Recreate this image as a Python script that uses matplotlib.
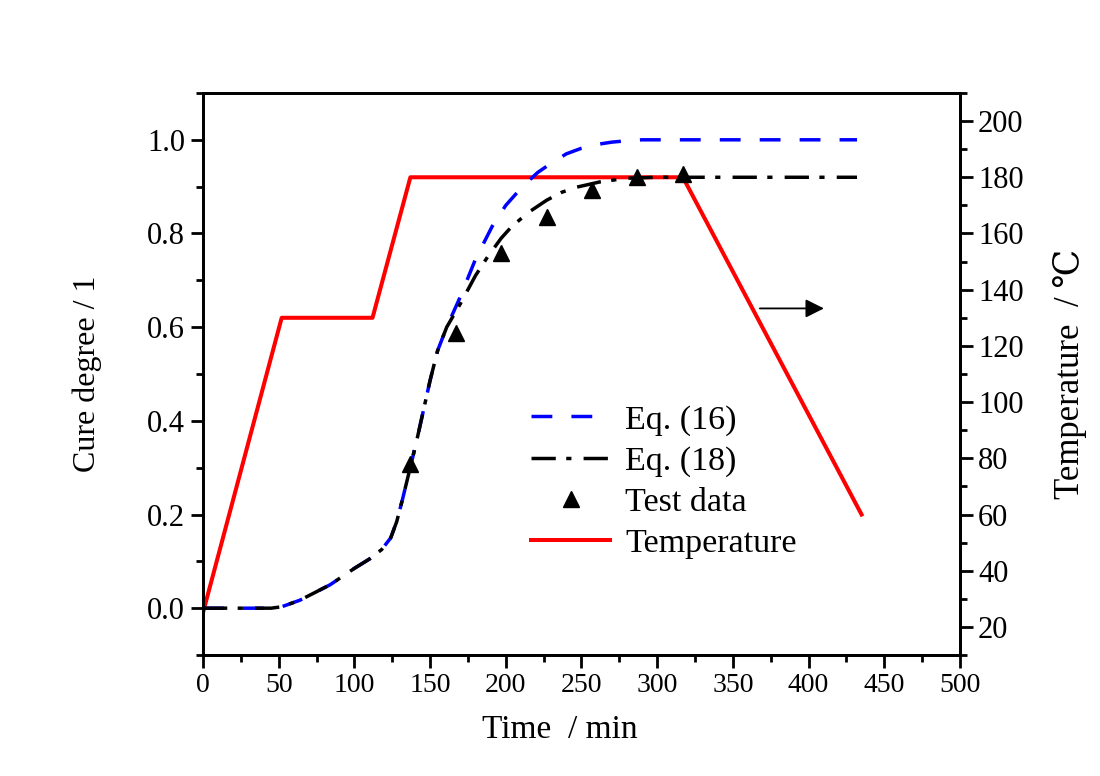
import numpy as np
import matplotlib
matplotlib.use('Agg')
import matplotlib.pyplot as plt
from matplotlib.ticker import MultipleLocator

plt.rcParams['font.family'] = ['Liberation Serif', 'DejaVu Serif']
plt.rcParams['mathtext.fontset'] = 'stix'

# Eq. (16) curve
t16 = [0, 25, 45, 52, 64, 84, 100, 110, 118, 124, 128, 132, 141, 150, 155, 161, 170, 180,
       191, 200, 211, 221, 230, 240, 250, 260, 270, 280, 290, 300, 350, 400, 432]
c16 = [0, 0, 0, 0.003, 0.017, 0.05, 0.085, 0.105, 0.125, 0.15, 0.185, 0.235, 0.355, 0.486,
       0.55, 0.60, 0.665, 0.745, 0.815, 0.86, 0.90, 0.93, 0.95, 0.97, 0.982, 0.99,
       0.995, 0.998, 1.0, 1.0, 1.0, 1.0, 1.0]

# Eq. (18) curve
t18 = [0, 25, 45, 52, 64, 84, 100, 110, 118, 124, 128, 132, 141, 150, 155, 161, 170, 180,
       188, 197, 204, 215, 227, 237, 247, 262, 280, 300, 350, 400, 432]
c18 = [0, 0, 0, 0.003, 0.017, 0.05, 0.085, 0.105, 0.125, 0.15, 0.185, 0.235, 0.355, 0.486,
       0.55, 0.60, 0.65, 0.71, 0.75, 0.79, 0.815, 0.845, 0.871, 0.888, 0.899, 0.91,
       0.918, 0.92, 0.92, 0.92, 0.92]

# test data
t_test = [137, 167, 197, 227, 257, 287, 317]
c_test = [0.308, 0.587, 0.758, 0.836, 0.893, 0.921, 0.927]

# temperature profile
t_temp = [0, 52, 112, 137, 317, 435]
temp = [25, 130, 130, 180, 180, 60]

fig = plt.figure(figsize=(11, 7.76), dpi=100)
ax1 = fig.add_axes([0.1845, 0.1559, 0.6882, 0.7243])
ax2 = ax1.twinx()
ax1.set_zorder(ax2.get_zorder() + 1)
ax1.patch.set_visible(False)

l1, = ax1.plot(t16, c16, color='blue', lw=2.5, linestyle=(0, (6, 5.5)), label='Eq. (16)')
l2, = ax1.plot(t18, c18, color='black', lw=2.5, linestyle=(0, (7, 3, 1.5, 3.5)), label='Eq. (18)')
l3, = ax1.plot(t_test, c_test, '^', color='black', markersize=11, linestyle='none', label='Test data')
l4, = ax2.plot(t_temp, temp, color='red', lw=2.9, label='Temperature')

ax1.set_xlim(0, 500)
ax1.set_ylim(-0.1, 1.1)
ax2.set_ylim(10, 210)

ax1.xaxis.set_major_locator(MultipleLocator(50))
ax1.xaxis.set_minor_locator(MultipleLocator(25))
ax1.yaxis.set_minor_locator(MultipleLocator(0.1))
ax2.yaxis.set_minor_locator(MultipleLocator(10))
ax1.set_yticks([0.0, 0.2, 0.4, 0.6, 0.8, 1.0])
ax1.set_yticklabels(['0.0', '0.2', '0.4', '0.6', '0.8', '1.0'])
ax2.set_yticks(range(20, 201, 20))

for ax in (ax1, ax2):
    for s in ax.spines.values():
        s.set_linewidth(2)
    ax.tick_params(which='major', direction='out', length=9, width=2, pad=4)
    ax.tick_params(which='minor', direction='out', length=5, width=2)
ax1.tick_params(top=False, which='both')
ax1.tick_params(axis='x', labelsize=20)
ax1.tick_params(axis='y', labelsize=22)
ax2.tick_params(axis='y', labelsize=22)

ax1.set_xlabel('Time  / min', fontsize=24)
ax1.xaxis.set_label_coords(0.472, -0.105)
ax1.set_ylabel('Cure degree / 1', fontsize=23, labelpad=32)
ax2.set_ylabel('Temperature  / \u2103', fontsize=25, labelpad=21)

ax1.annotate('', xy=(412, 0.64), xytext=(366, 0.64),
             arrowprops=dict(arrowstyle='-|>', color='black', lw=1.3, mutation_scale=28))

ax1.legend(handles=[l1, l2, l3, l4], loc='upper left', bbox_to_anchor=(0.416, 0.47),
           frameon=False, fontsize=24.5, handlelength=2.3, handletextpad=0.45,
           labelspacing=0.3, borderaxespad=0)

plt.savefig('out.png', dpi=100)
